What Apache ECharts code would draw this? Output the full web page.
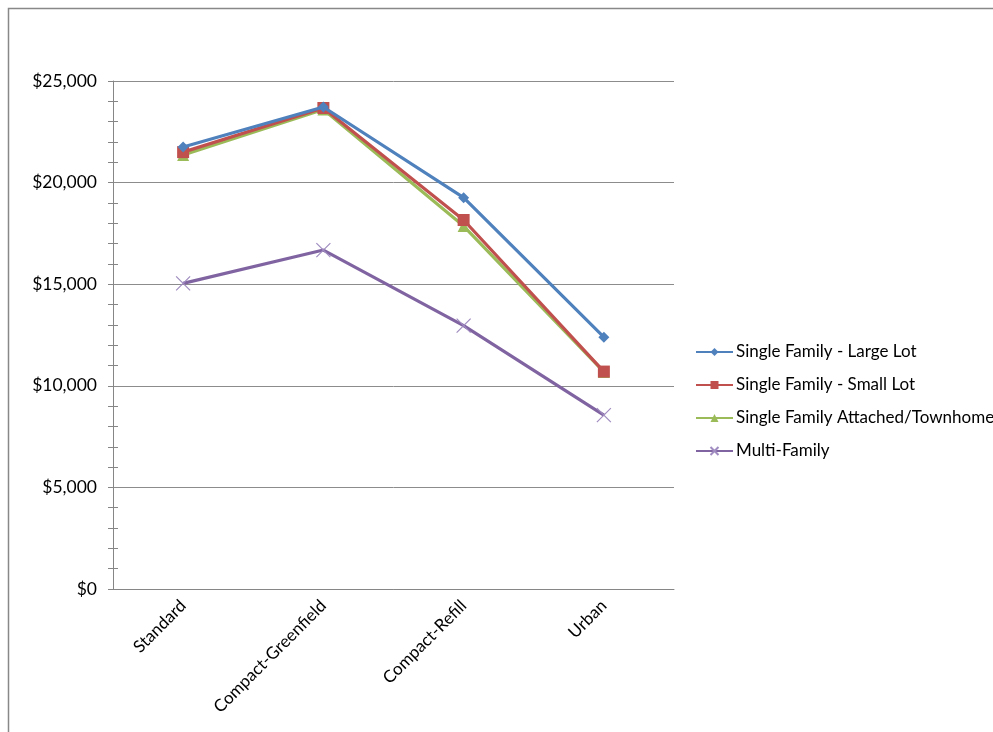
<!DOCTYPE html>
<html>
<head>
<meta charset="utf-8">
<script src="https://cdn.jsdelivr.net/npm/echarts@6/dist/echarts.min.js"></script>
<style>html,body{margin:0;padding:0;background:#fff;}#c{width:993px;height:732px;}</style>
</head>
<body>
<div id="c"></div>
<script>
const categories = ['Standard', 'Compact-Greenfield', 'Compact-Refill', 'Urban'];
const seriesNames = ['Single Family - Large Lot', 'Single Family - Small Lot', 'Single Family Attached/Townhome', 'Multi-Family'];
const largeLot = [21750, 23720, 19260, 12390];
const smallLot = [21500, 23670, 18160, 10700];
const townhome = [21360, 23600, 17860, 10680];
const multiFamily = [15040, 16680, 12960, 8560];
const yTicks = [0, 5000, 10000, 15000, 20000, 25000];

const FONT = 'Lato';
const colors = ['#4F81BD', '#C0504D', '#9BBB59', '#8064A2'];
const symbols = ['diamond', 'rect', 'triangle', 'path://M0,0L10,10M10,0L0,10'];
const sizes = [11, 12, 12, 14];
const data = [largeLot, smallLot, townhome, multiFamily];

const chart = echarts.init(document.getElementById('c'));
chart.setOption({
  animation: false,
  backgroundColor: '#fff',
  graphic: [{type: 'rect', shape: {x: 8.5, y: 8.5, width: 1100, height: 1100}, style: {fill: 'none', stroke: '#888', lineWidth: 1.5}, z: -1}],
  grid: {left: 113, top: 81, right: 319, bottom: 143},
  legend: {
    orient: 'vertical', left: 695, top: 343, itemGap: 15, padding: 0,
    itemWidth: 37, itemHeight: 10,
    textStyle: {fontFamily: FONT, fontSize: 17, color: '#000', padding: [0, 0, 0, -2], lineHeight: 18},
    data: seriesNames
  },
  xAxis: {
    type: 'category', data: categories, boundaryGap: true,
    axisLine: {lineStyle: {color: '#868686', width: 1}},
    axisTick: {show: false},
    axisLabel: {rotate: 45, fontFamily: FONT, fontSize: 17, color: '#000', margin: 14, interval: 0}
  },
  yAxis: [{
    type: 'value', min: yTicks[0], max: yTicks[yTicks.length - 1], interval: 5000,
    axisLine: {show: true, lineStyle: {color: '#868686'}},
    axisTick: {show: true, length: 5, lineStyle: {color: '#868686'}},
    minorTick: {show: true, splitNumber: 5, length: 5, lineStyle: {color: '#868686'}},
    splitLine: {show: true, lineStyle: {color: '#8c8c8c', width: 1}},
    axisLabel: {fontFamily: FONT, fontSize: 17.5, color: '#000', margin: 16,
      formatter: v => '$' + v.toLocaleString('en-US')}
  }, {
    type: 'value', position: 'left', min: yTicks[0], max: yTicks[yTicks.length - 1], interval: 5000,
    axisLine: {show: false}, axisLabel: {show: false}, splitLine: {show: false},
    axisTick: {show: false, inside: true},
    minorTick: {show: true, splitNumber: 5, length: 5, lineStyle: {color: '#868686'}}
  }],
  series: seriesNames.map((n, i) => ({
    name: n, type: 'line', data: data[i], yAxisIndex: 0,
    symbol: symbols[i], symbolSize: sizes[i], showSymbol: true,
    lineStyle: {color: colors[i], width: 3.2},
    itemStyle: i === 3 ? {color: colors[i], borderColor: '#A08CC0', borderWidth: 1.2} : {color: colors[i]},
    z: 10 - i
  }))
});
</script>
</body>
</html>
